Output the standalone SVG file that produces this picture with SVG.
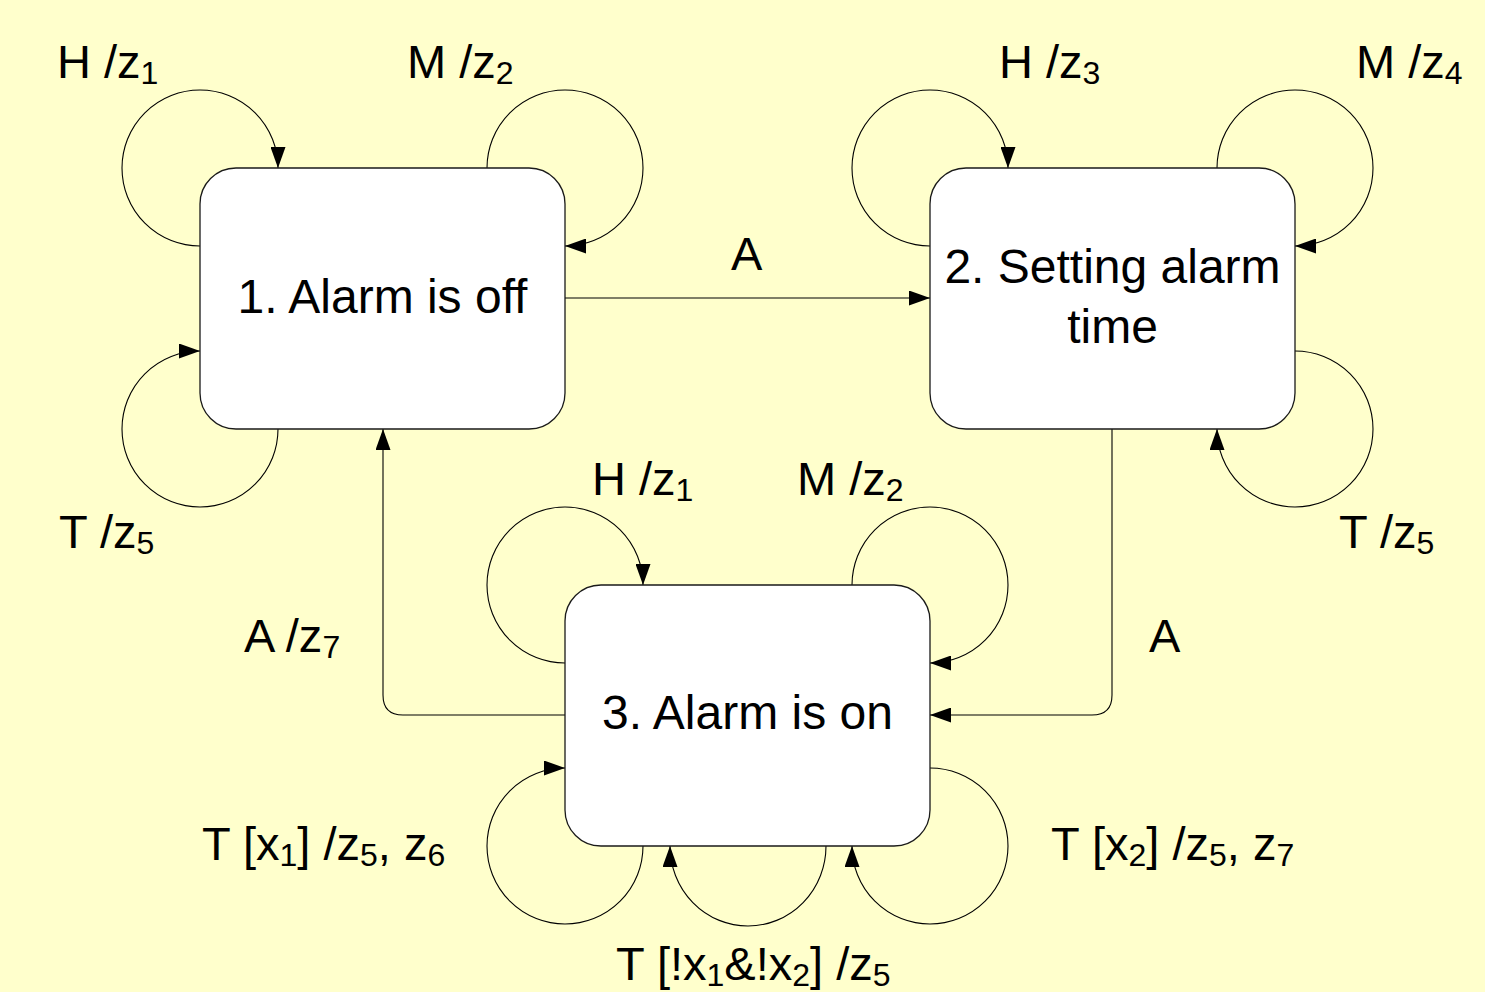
<svg xmlns="http://www.w3.org/2000/svg" width="1485" height="992" viewBox="0 0 1485 992">
<style>
.node{fill:#ffffff;stroke:#1a1a1a;stroke-width:1.3}
.edge{fill:none;stroke:#000;stroke-width:1.1}
.t{font-family:"Liberation Sans",Arial,sans-serif;font-size:48px;fill:#000}
.lbl{font-family:"Liberation Sans",Arial,sans-serif;font-size:47px;fill:#000}
.sub{font-size:32px}
</style>
<defs>
<marker id="ah" markerUnits="userSpaceOnUse" markerWidth="21" markerHeight="15" refX="21" refY="7.5" orient="auto">
<path d="M0,0 L21,7.5 L0,15 z" fill="#000"/>
</marker>
</defs>
<rect x="0" y="0" width="1485" height="992" fill="#ffffcc"/>

<g id="connectors">
<path class="edge" d="M200,246 A78,78 0 1 1 278,168" marker-end="url(#ah)"/>
<path class="edge" d="M487,168 A78,78 0 1 1 565,246" marker-end="url(#ah)"/>
<path class="edge" d="M278,429 A78,78 0 1 1 200,351" marker-end="url(#ah)"/>
<path class="edge" d="M930,246 A78,78 0 1 1 1008,168" marker-end="url(#ah)"/>
<path class="edge" d="M1217,168 A78,78 0 1 1 1295,246" marker-end="url(#ah)"/>
<path class="edge" d="M1295,351 A78,78 0 1 1 1217,429" marker-end="url(#ah)"/>
<path class="edge" d="M565,663 A78,78 0 1 1 643,585" marker-end="url(#ah)"/>
<path class="edge" d="M852,585 A78,78 0 1 1 930,663" marker-end="url(#ah)"/>
<path class="edge" d="M643,846 A78,78 0 1 1 565,768" marker-end="url(#ah)"/>
<path class="edge" d="M930,768 A78,78 0 1 1 852,846" marker-end="url(#ah)"/>
<path class="edge" d="M826,846 A78,80 0 0 1 670,846" marker-end="url(#ah)"/>
<path class="edge" d="M565,298 L930,298" marker-end="url(#ah)"/>
<path class="edge" d="M1112,429 L1112,695 Q1112,715 1092,715 L930,715" marker-end="url(#ah)"/>
<path class="edge" d="M565,715 L403,715 Q383,715 383,695 L383,429" marker-end="url(#ah)"/>
</g>

<g id="labels">
<text class="lbl" x="57" y="78">H /z<tspan class="sub" dy="6">1</tspan></text>
<text class="lbl" x="407" y="78">M /z<tspan class="sub" dy="6">2</tspan></text>
<text class="lbl" x="59" y="548">T /z<tspan class="sub" dy="6">5</tspan></text>
<text class="lbl" x="999" y="78">H /z<tspan class="sub" dy="6">3</tspan></text>
<text class="lbl" x="1356" y="78">M /z<tspan class="sub" dy="6">4</tspan></text>
<text class="lbl" x="1339" y="548">T /z<tspan class="sub" dy="6">5</tspan></text>
<text class="lbl" x="731" y="270">A</text>
<text class="lbl" x="592" y="495">H /z<tspan class="sub" dy="6">1</tspan></text>
<text class="lbl" x="797" y="495">M /z<tspan class="sub" dy="6">2</tspan></text>
<text class="lbl" x="244" y="652">A /z<tspan class="sub" dy="6">7</tspan></text>
<text class="lbl" x="1149" y="652">A</text>
<text class="lbl" x="202" y="860">T [x<tspan class="sub" dy="6">1</tspan><tspan dy="-6">] /z</tspan><tspan class="sub" dy="6">5</tspan><tspan dy="-6">, z</tspan><tspan class="sub" dy="6">6</tspan></text>
<text class="lbl" x="1051" y="860">T [x<tspan class="sub" dy="6">2</tspan><tspan dy="-6">] /z</tspan><tspan class="sub" dy="6">5</tspan><tspan dy="-6">, z</tspan><tspan class="sub" dy="6">7</tspan></text>
<text class="lbl" x="616" y="980">T [!x<tspan class="sub" dy="6">1</tspan><tspan dy="-6">&amp;!x</tspan><tspan class="sub" dy="6">2</tspan><tspan dy="-6">] /z</tspan><tspan class="sub" dy="6">5</tspan></text>
</g>

<g id="node1">
<rect class="node" x="200" y="168" width="365" height="261" rx="36" ry="36"/>
<text class="t" x="382.5" y="313" text-anchor="middle">1. Alarm is off</text>
</g>
<g id="node2">
<rect class="node" x="930" y="168" width="365" height="261" rx="36" ry="36"/>
<text class="t" x="1112.5" y="283" text-anchor="middle">2. Setting alarm</text>
<text class="t" x="1112.5" y="343" text-anchor="middle">time</text>
</g>
<g id="node3">
<rect class="node" x="565" y="585" width="365" height="261" rx="36" ry="36"/>
<text class="t" x="747.5" y="729" text-anchor="middle">3. Alarm is on</text>
</g>
</svg>
